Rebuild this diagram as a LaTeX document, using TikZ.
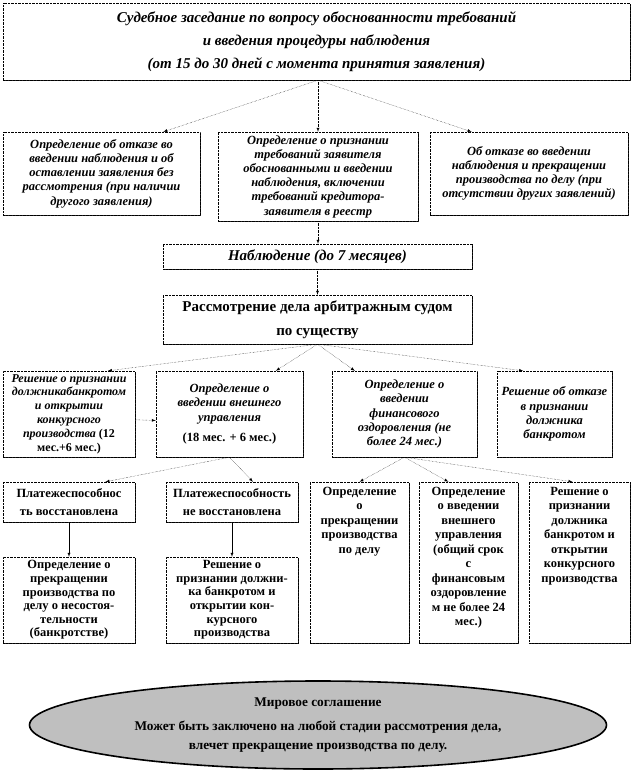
\documentclass[tikz,border=0pt]{standalone}
\usepackage{fontspec}
\setmainfont{Liberation Serif}
\usetikzlibrary{shapes.geometric,shadows}

\newcommand{\toptext}[2]{\parbox[c][#1][t]{96pt}{\centering #2}}

\tikzset{
	box/.style={draw, densely dotted, fill=white, align=center, inner sep=1pt,
		drop shadow={shadow xshift=1.2pt, shadow yshift=-1.2pt, fill=black!85, opacity=1}},
	ital/.style={font=\fontsize{12.5}{14.2}\selectfont\bfseries\itshape},
	rom/.style={font=\fontsize{12.5}{14.5}\selectfont\bfseries},
	arr/.style={densely dotted, -latex},
}

\begin{document}
\begin{tikzpicture}[x=1pt, y=-1pt]
			\useasboundingbox (0,0) rectangle (633,775);
			\node[box, minimum width=627pt, minimum height=77pt, font=\fontsize{15}{23}\selectfont\bfseries\itshape] (sud) at (316.5,41.5) {Судебное заседание по вопросу обоснованности требований\\ и введения процедуры наблюдения\\ (от 15 до 30 дней с момента принятия заявления)};
			\node[box, ital, minimum width=197pt, minimum height=83pt] (otkaz) at (101.5,173.5) {Определение об отказе во\\ введении наблюдения и об\\ оставлении заявления без\\ рассмотрения (при наличии\\ другого заявления)};
			\node[box, ital, minimum width=200pt, minimum height=89pt] (priznan) at (318,176.5) {Определение о признании\\ требований заявителя\\ обоснованными и введении\\ наблюдения, включении\\ требований кредитора-\\ заявителя в реестр};
			\node[box, ital, minimum width=198pt, minimum height=83pt] (prekr) at (529,173.5) {Об отказе во введении\\ наблюдения и прекращении\\ производства по делу (при\\ отсутствии других заявлений)};
			\node[box, minimum width=309pt, minimum height=25pt, font=\fontsize{15}{17}\selectfont\bfseries\itshape] (nabl) at (317.5,256.5) {Наблюдение (до 7 месяцев)};
			\node[box, minimum width=309pt, minimum height=49pt, font=\fontsize{15}{23.5}\selectfont\bfseries] (rassm) at (317.5,319.5) {Рассмотрение дела арбитражным судом\\ по существу};

			\node[box, minimum width=132pt, minimum height=86pt, font=\fontsize{12}{13.8}\selectfont\bfseries\itshape] (reshbankr) at (69,414) {Решение о признании\\ должникабанкротом\\ и открытии\\ конкурсного\\ производства {\upshape(12}\\ {\upshape мес.+6 мес.)}};
			\node[box, ital, minimum width=147pt, minimum height=86pt] (vneshn) at (229.5,414) {Определение о\\ введении внешнего\\ управления\\[6pt] {\upshape(18 мес. + 6 мес.)}};
			\node[box, ital, minimum width=145pt, minimum height=86pt] (finozd) at (404.5,414) {Определение о\\ введении\\ финансового\\ оздоровления (не\\ более 24 мес.)};
			\node[box, ital, minimum width=115pt, minimum height=86pt] (otkazbankr) at (554.5,414) {Решение об отказе\\ в признании\\ должника\\ банкротом};

			\node[box, minimum width=132pt, minimum height=40pt, font=\fontsize{12.5}{18}\selectfont\bfseries] (vosst) at (69,502) {Платежеспособнос\\ ть восстановлена};
			\node[box, minimum width=132pt, minimum height=40pt, font=\fontsize{12.5}{18}\selectfont\bfseries] (nevosst) at (232,502) {Платежеспособность\\ не восстановлена};
			\node[box, rom, minimum width=99pt, minimum height=161pt] (prekrdela) at (359.5,562.5) {\toptext{157pt}{\vspace{3pt}Определение\\ о\\ прекращении\\ производства\\ по делу}};
			\node[box, rom, minimum width=99pt, minimum height=161pt] (vvedvu) at (468.5,562.5) {\toptext{157pt}{\vspace{3pt}Определение\\ о введении\\ внешнего\\ управления\\ (общий срок\\ с\\ финансовым\\ оздоровление\\ м не более 24\\ мес.)}};
			\node[box, rom, minimum width=101pt, minimum height=161pt] (reshko) at (579.5,562.5) {\toptext{157pt}{\vspace{3pt}Решение о\\ признании\\ должника\\ банкротом и\\ открытии\\ конкурсного\\ производства}};

			\node[box, minimum width=132pt, minimum height=86pt, font=\fontsize{12.5}{13.6}\selectfont\bfseries] (prekrnes) at (69,600) {Определение о\\ прекращении\\ производства по\\ делу о несостоя-\\ тельности\\ (банкротстве)};
			\node[box, minimum width=132pt, minimum height=86pt, font=\fontsize{12.5}{13.6}\selectfont\bfseries] (reshkp) at (232,600) {Решение о\\ признании должни-\\ ка банкротом и\\ открытии кон-\\ курсного\\ производства};

			\node[ellipse, draw, line width=1.6pt, fill=black!25, minimum width=577pt, minimum height=88pt, align=center, font=\fontsize{13.3}{18.6}\selectfont\bfseries] (mir) at (318,725) {Мировое соглашение\\[5pt] Может быть заключено на любой стадии рассмотрения дела,\\ влечет прекращение производства по делу.};

			\draw[arr] (sud.south -| priznan.north) -- (otkaz.34);
			\draw[arr] (sud.south -| priznan.north) -- (priznan.north);
			\draw[arr] (sud.south -| priznan.north) -- (prekr.144);
			\draw[arr] (priznan.south) -- (nabl.north -| priznan.south);
			\draw[arr] (nabl.south) -- (rassm.north);
			\draw[arr] (rassm.south) -- (reshbankr.48);
			\draw[arr] (rassm.south) -- (vneshn.43);
			\draw[arr] (rassm.south) -- (finozd.139);
			\draw[arr] (rassm.south) -- (otkazbankr.126);
			\draw[arr] (reshbankr.-5) -- (vneshn.185);
			\draw[arr] (vneshn.south) -- (vosst.29);
			\draw[arr] (vneshn.south) -- (nevosst.44);
			\draw[arr] (finozd.south) -- (prekrdela.north);
			\draw[arr] (finozd.south) -- (vvedvu.104);
			\draw[arr] (finozd.south) -- (reshko.95);
			\draw[-latex] (vosst.south) -- (prekrnes.north);
			\draw[-latex] (nevosst.south) -- (reshkp.north);
\end{tikzpicture}
\end{document}
